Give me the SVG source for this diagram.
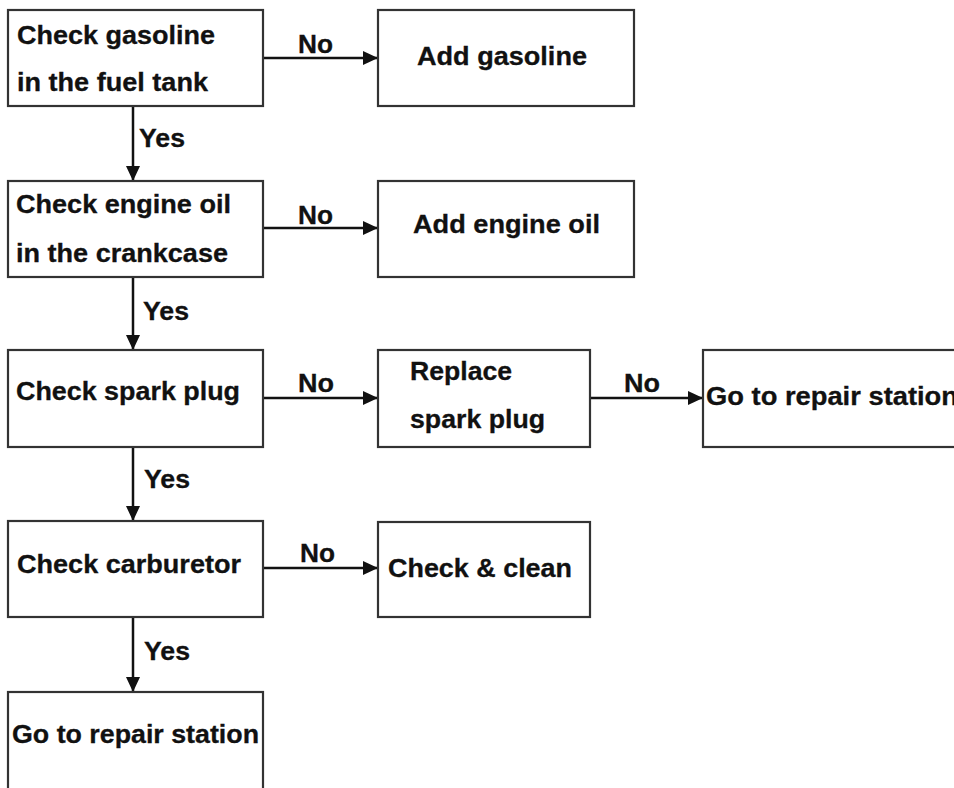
<svg xmlns="http://www.w3.org/2000/svg" width="954" height="788" viewBox="0 0 954 788">
<style>
.box{fill:#fff;stroke:#333;stroke-width:2.2}
.t{font-family:"Liberation Sans",Arial,sans-serif;font-weight:bold;font-size:25px;fill:#111;stroke:#111;stroke-width:0.3}
.c{fill:none;stroke:#111;stroke-width:2.5}
</style>
<defs>
<marker id="ah" markerUnits="userSpaceOnUse" markerWidth="16" markerHeight="14" refX="15" refY="7" orient="auto">
<path d="M0,0 L15,7 L0,14 Z" fill="#111"/>
</marker>
</defs>
<rect width="954" height="788" fill="#fff"/>
<g id="connectors">
<line class="c" x1="263" y1="58" x2="378" y2="58" marker-end="url(#ah)"/>
<text class="t" x="298" y="53" textLength="35" lengthAdjust="spacingAndGlyphs">No</text>
<line class="c" x1="133" y1="106" x2="133" y2="181" marker-end="url(#ah)"/>
<text class="t" x="139" y="147" textLength="46" lengthAdjust="spacingAndGlyphs">Yes</text>
<line class="c" x1="263" y1="228" x2="378" y2="228" marker-end="url(#ah)"/>
<text class="t" x="298" y="224" textLength="35" lengthAdjust="spacingAndGlyphs">No</text>
<line class="c" x1="133" y1="277" x2="133" y2="350" marker-end="url(#ah)"/>
<text class="t" x="143" y="320" textLength="46" lengthAdjust="spacingAndGlyphs">Yes</text>
<line class="c" x1="263" y1="398" x2="378" y2="398" marker-end="url(#ah)"/>
<text class="t" x="298" y="392" textLength="36" lengthAdjust="spacingAndGlyphs">No</text>
<line class="c" x1="590" y1="398" x2="703" y2="398" marker-end="url(#ah)"/>
<text class="t" x="624" y="392" textLength="36" lengthAdjust="spacingAndGlyphs">No</text>
<line class="c" x1="133" y1="447" x2="133" y2="521" marker-end="url(#ah)"/>
<text class="t" x="144" y="488" textLength="46" lengthAdjust="spacingAndGlyphs">Yes</text>
<line class="c" x1="263" y1="568" x2="378" y2="568" marker-end="url(#ah)"/>
<text class="t" x="300" y="562" textLength="35" lengthAdjust="spacingAndGlyphs">No</text>
<line class="c" x1="133" y1="617" x2="133" y2="692" marker-end="url(#ah)"/>
<text class="t" x="144" y="660" textLength="46" lengthAdjust="spacingAndGlyphs">Yes</text>
</g>
<g id="n1">
<rect class="box" x="8" y="10" width="255" height="96"/>
<text class="t" x="17" y="44" textLength="198" lengthAdjust="spacingAndGlyphs">Check gasoline</text>
<text class="t" x="17" y="91" textLength="191" lengthAdjust="spacingAndGlyphs">in the fuel tank</text>
</g>
<g id="n2">
<rect class="box" x="378" y="10" width="256" height="96"/>
<text class="t" x="417" y="65" textLength="170" lengthAdjust="spacingAndGlyphs">Add gasoline</text>
</g>
<g id="n3">
<rect class="box" x="8" y="181" width="255" height="96"/>
<text class="t" x="16" y="213" textLength="215" lengthAdjust="spacingAndGlyphs">Check engine oil</text>
<text class="t" x="16" y="262" textLength="212" lengthAdjust="spacingAndGlyphs">in the crankcase</text>
</g>
<g id="n4">
<rect class="box" x="378" y="181" width="256" height="96"/>
<text class="t" x="413" y="233" textLength="187" lengthAdjust="spacingAndGlyphs">Add engine oil</text>
</g>
<g id="n5">
<rect class="box" x="8" y="350" width="255" height="97"/>
<text class="t" x="16" y="400" textLength="224" lengthAdjust="spacingAndGlyphs">Check spark plug</text>
</g>
<g id="n6">
<rect class="box" x="378" y="350" width="212" height="97"/>
<text class="t" x="410" y="380" textLength="102" lengthAdjust="spacingAndGlyphs">Replace</text>
<text class="t" x="410" y="428" textLength="135" lengthAdjust="spacingAndGlyphs">spark plug</text>
</g>
<g id="n7">
<rect class="box" x="703" y="350" width="260" height="97"/>
<text class="t" x="706" y="405" textLength="252" lengthAdjust="spacingAndGlyphs">Go to repair station</text>
</g>
<g id="n8">
<rect class="box" x="8" y="521" width="255" height="96"/>
<text class="t" x="17" y="573" textLength="224" lengthAdjust="spacingAndGlyphs">Check carburetor</text>
</g>
<g id="n9">
<rect class="box" x="378" y="522" width="212" height="95"/>
<text class="t" x="388" y="577" textLength="184" lengthAdjust="spacingAndGlyphs">Check &amp; clean</text>
</g>
<g id="n10">
<rect class="box" x="8" y="692" width="255" height="110"/>
<text class="t" x="12" y="743" textLength="247" lengthAdjust="spacingAndGlyphs">Go to repair station</text>
</g>
</svg>
